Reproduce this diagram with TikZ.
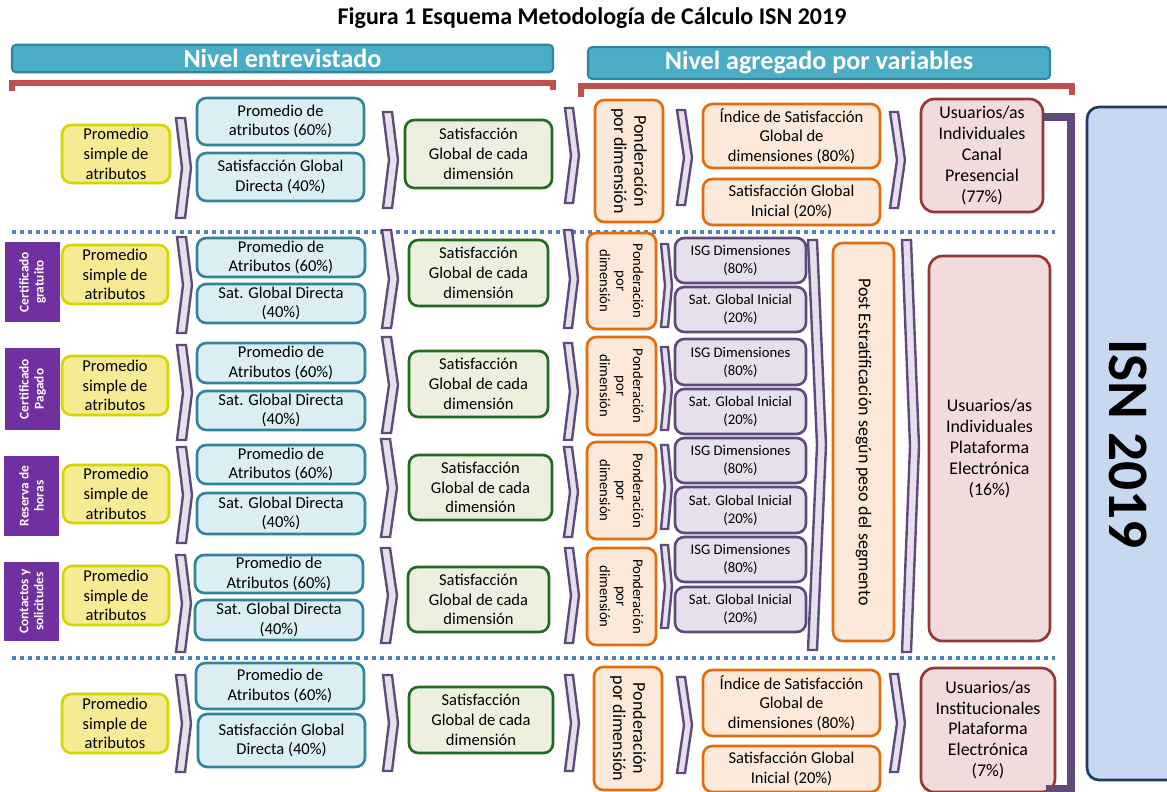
\documentclass[tikz,border=0pt]{standalone}
\usepackage{fontspec}
\setmainfont{Carlito}
\definecolor{hdrf}{HTML}{4BACC6}
\definecolor{hdrd}{HTML}{31859C}
\definecolor{brc}{HTML}{C0504D}
\definecolor{yfill}{HTML}{F6EA92}
\definecolor{ybd}{HTML}{D4D600}
\definecolor{bfill}{HTML}{DBEEF4}
\definecolor{bbd}{HTML}{31849B}
\definecolor{gfill}{HTML}{EBF1DE}
\definecolor{gbd}{HTML}{216B21}
\definecolor{ofill}{HTML}{FDE9D9}
\definecolor{obd}{HTML}{E46C0A}
\definecolor{pfill}{HTML}{E5E0EC}
\definecolor{pbd}{HTML}{604A7B}
\definecolor{rfill}{HTML}{F2DCDB}
\definecolor{rbd}{HTML}{953735}
\definecolor{lblc}{HTML}{7030A0}
\definecolor{isnf}{HTML}{C6D9F1}
\definecolor{isnd}{HTML}{1F3864}
\definecolor{dotc}{HTML}{4F81BD}
\newcommand\fs[2]{\fontsize{#1}{#2}\selectfont}
\newcommand\bx[7]{\node[#1, minimum width={0.75pt*(#5-#3)}, minimum height={0.75pt*(#6-#4)}] (#2) at ({(#3+#5)/2},{(#4+#6)/2}) {#7};}
\newcommand\rbx[8]{\node[#1, rotate=#7, minimum width={0.75pt*(#6-#4)}, minimum height={0.75pt*(#5-#3)}] (#2) at ({(#3+#5)/2},{(#4+#6)/2}) {#8};}
\newcommand\chev[6]{\draw[chevst] (#2,#3) coordinate (#1) -- ++(#5,0) -- ({#2+#5+#6},{(#3+#4)/2}) -- ({#2+#5},#4) -- (#2,#4) -- ({#2+#6},{(#3+#4)/2}) -- cycle;}
\tikzset{
 base/.style={rounded corners=7pt, line width=2pt, align=center, inner sep=0pt, font=\fs{12.4}{14.8}},
 ybox/.style={base, draw=ybd, fill=yfill},
 bbox/.style={base, draw=bbd, fill=bfill},
 gbox/.style={base, draw=gbd, fill=gfill},
 obox/.style={base, draw=obd, fill=ofill},
 pbox/.style={base, draw=pbd, fill=pfill, font=\fs{11}{13.5}},
 rbox/.style={base, draw=rbd, fill=rfill, rounded corners=10pt, font=\fs{13.4}{15.6}},
 lbl/.style={fill=lblc, text=white, font=\bfseries\fs{10}{11.3}, align=center, inner sep=0pt},
 hdr/.style={draw=hdrd, fill=hdrf, line width=1.6pt, rounded corners=3pt, text=white, font=\bfseries\fs{19.6}{20}},
 chevst/.style={draw=pbd, fill=pfill, line width=1.8pt, line join=miter},
 dotl/.style={draw=dotc, line width=2.6pt, dash pattern=on 3pt off 3pt},
 brk/.style={draw=brc, line width=3.8pt},
 pline/.style={draw=pbd, line width=6pt},
}
\begin{document}
\begin{tikzpicture}[x=0.75pt,y=-0.75pt]
\useasboundingbox (0,0) rectangle (1167,792);
\begin{scope}
\clip (0,0) rectangle (1167,792);
% title
\node[font=\bfseries\fs{18}{20}] (title) at (592,18) {Figura 1 Esquema Metodología de Cálculo ISN 2019};
% headers
\bx{hdr}{h1}{12}{46}{553}{71}{Nivel entrevistado}
\bx{hdr}{h2}{588}{49}{1050}{77}{Nivel agregado por variables}
\draw[brk] (12,91) -- (12,83) -- (553,83) -- (553,90);
\draw[brk] (581,97) -- (581,86) -- (1072,86) -- (1072,95);
% separators
\draw[dotl] (12,232) -- (1055,232);
\draw[dotl] (12,658) -- (1055,658);
% ISN box and bracket line
\node[draw=isnd, fill=isnf, line width=2pt, rounded corners=9pt, minimum width={0.75pt*100}, minimum height={0.75pt*673}] (isnbox) at (1137,443.5) {};
\node[rotate=-90, font=\bfseries\fs{43}{44}] (isn) at (1128,444) {ISN 2019};
% ===== Row 1 =====
\bx{ybox}{y1}{62}{125}{170}{183}{Promedio\\simple de\\atributos}
\chev{c11}{176}{118}{218}{9}{6}
\bx{bbox}{b1a}{197}{98}{364}{145}{Promedio de\\atributos (60\%)}
\bx{bbox}{b1b}{197}{153}{364}{201}{Satisfacción Global\\Directa (40\%)}
\chev{c12}{383}{112}{208}{9}{6}
\bx{gbox}{g1}{405}{120}{552}{188}{Satisfacción\\Global de cada\\dimensión}
\chev{c13}{565}{108}{203}{8}{6}
\rbx{obox,font=\fs{13.5}{15.2}}{o1}{595}{100}{663}{222}{-90}{Ponderación\\por dimensión}
\chev{c14}{677}{110}{205}{8}{7}
\bx{obox}{oi1}{703}{104}{880}{168}{Índice de Satisfacción\\Global de\\dimensiones (80\%)}
\bx{obox}{os1}{703}{179}{880}{225}{Satisfacción Global\\Inicial (20\%)}
\chev{c15}{890}{112}{208}{8}{7}
\bx{rbox}{r1}{921}{99}{1043}{212}{Usuarios/as\\Individuales\\Canal\\Presencial\\(77\%)}
% ===== Row A =====
\rbx{lbl}{la}{5}{242}{60}{322}{90}{Certificado\\gratuito}
\bx{ybox}{ya}{62}{245}{168}{304}{Promedio\\simple de\\atributos}
\chev{ca1}{177}{237}{333}{9}{6}
\bx{bbox}{baa}{197}{238}{365}{277}{Promedio de\\Atributos (60\%)}
\bx{bbox}{bab}{197}{284}{365}{323}{Sat. Global Directa\\(40\%)}
\chev{ca2}{382}{230}{328}{9}{7}
\bx{gbox}{ga}{409}{240}{548}{306}{Satisfacción\\Global de cada\\dimensión}
\chev{ca3}{564}{230}{328}{8}{6}
\rbx{obox,font=\fs{11}{12.5}}{oa}{587}{233}{656}{329}{-90}{Ponderación\\por\\dimensión}
\chev{ca4}{661}{244}{327}{7}{4}
\bx{pbox}{pa1}{675}{238}{806}{283}{ISG Dimensiones\\(80\%)}
\bx{pbox}{pa2}{675}{287}{806}{332}{Sat. Global Inicial\\(20\%)}
% ===== Row B =====
\rbx{lbl}{lb}{5}{348}{60}{430}{90}{Certificado\\Pagado}
\bx{ybox}{yb}{62}{356}{168}{415}{Promedio\\simple de\\atributos}
\chev{cb1}{177}{345}{440}{9}{6}
\bx{bbox}{bba}{197}{343}{365}{383}{Promedio de\\Atributos (60\%)}
\bx{bbox}{bbb}{197}{391}{365}{430}{Sat. Global Directa\\(40\%)}
\chev{cb2}{382}{337}{433}{9}{7}
\bx{gbox}{gb}{409}{351}{548}{417}{Satisfacción\\Global de cada\\dimensión}
\chev{cb3}{564}{343}{440}{8}{6}
\rbx{obox,font=\fs{11}{12.5}}{ob}{587}{337}{656}{435}{-90}{Ponderación\\por\\dimensión}
\chev{cb4}{661}{347}{430}{7}{4}
\bx{pbox}{pb1}{675}{339}{806}{385}{ISG Dimensiones\\(80\%)}
\bx{pbox}{pb2}{675}{389}{806}{434}{Sat. Global Inicial\\(20\%)}
% ===== Row C =====
\rbx{lbl}{lc}{4}{456}{59}{536}{90}{Reserva de\\horas}
\bx{ybox}{yc}{63}{465}{169}{523}{Promedio\\simple de\\atributos}
\chev{cc1}{177}{447}{543}{9}{6}
\bx{bbox}{bca}{197}{445}{365}{484}{Promedio de\\Atributos (60\%)}
\bx{bbox}{bcb}{197}{493}{365}{534}{Sat. Global Directa\\(40\%)}
\chev{cc2}{381}{439}{537}{9}{7}
\bx{gbox}{gc}{409}{455}{552}{520}{Satisfacción\\Global de cada\\dimensión}
\chev{cc3}{564}{447}{537}{8}{6}
\rbx{obox,font=\fs{11}{12.5}}{oc}{587}{442}{656}{539}{-90}{Ponderación\\por\\dimensión}
\chev{cc4}{661}{445}{529}{7}{4}
\bx{pbox}{pc1}{675}{438}{806}{483}{ISG Dimensiones\\(80\%)}
\bx{pbox}{pc2}{675}{487}{806}{533}{Sat. Global Inicial\\(20\%)}
% ===== Row D =====
\rbx{lbl}{ld}{4}{562}{59}{641}{90}{Contactos y\\solicitudes}
\bx{ybox}{yd}{63}{566}{169}{625}{Promedio\\simple de\\atributos}
\chev{cd1}{176}{555}{652}{9}{6}
\bx{bbox}{bda}{195}{555}{363}{593}{Promedio de\\Atributos (60\%)}
\bx{bbox}{bdb}{195}{600}{363}{640}{Sat. Global Directa\\(40\%)}
\chev{cd2}{381}{548}{643}{9}{7}
\bx{gbox}{gd}{408}{567}{549}{632}{Satisfacción\\Global de cada\\dimensión}
\chev{cd3}{565}{548}{643}{8}{6}
\rbx{obox,font=\fs{11}{12.5}}{od}{587}{548}{656}{645}{-90}{Ponderación\\por\\dimensión}
\chev{cd4}{661}{545}{628}{7}{4}
\bx{pbox}{pd1}{675}{537}{806}{582}{ISG Dimensiones\\(80\%)}
\bx{pbox}{pd2}{675}{587}{806}{632}{Sat. Global Inicial\\(20\%)}
% ===== aggregation of middle rows =====
\chev{cm1}{808}{240}{650}{9}{9}
\rbx{obox,font=\fs{13.5}{15}}{post}{833}{243}{894}{641}{-90}{Post Estratificación según peso del segmento}
\chev{cm2}{902}{240}{652}{9}{8}
\bx{rbox}{r2}{929}{256}{1050}{641}{Usuarios/as\\Individuales\\Plataforma\\Electrónica\\(16\%)}
% ===== bottom row =====
\bx{ybox}{y5}{62}{694}{168}{753}{Promedio\\simple de\\atributos}
\chev{c51}{176}{675}{772}{9}{6}
\bx{bbox}{b5a}{196}{663}{364}{709}{Promedio de\\Atributos (60\%)}
\bx{bbox}{b5b}{198}{714}{365}{767}{Satisfacción Global\\Directa (40\%)}
\chev{c52}{383}{675}{771}{9}{6}
\bx{gbox}{g5}{409}{687}{553}{753}{Satisfacción\\Global de cada\\dimensión}
\chev{c53}{565}{675}{771}{8}{6}
\rbx{obox,font=\fs{13.5}{15.2}}{o5}{594}{667}{662}{790}{-90}{Ponderación\\por dimensión}
\chev{c54}{677}{677}{773}{8}{7}
\bx{obox}{oi5}{703}{670}{880}{736}{Índice de Satisfacción\\Global de\\dimensiones (80\%)}
\bx{obox}{os5}{703}{746}{880}{792}{Satisfacción Global\\Inicial (20\%)}
\chev{c55}{890}{674}{772}{8}{7}
\bx{rbox}{r3}{921}{668}{1055}{792}{Usuarios/as\\Institucionales\\Plataforma\\Electrónica\\(7\%)}
% purple bracket
\draw[pline] (r1.east |- 0,117) -- (1071,117) -- (1071,789) -- (1046,789);
\end{scope}
\end{tikzpicture}
\end{document}
